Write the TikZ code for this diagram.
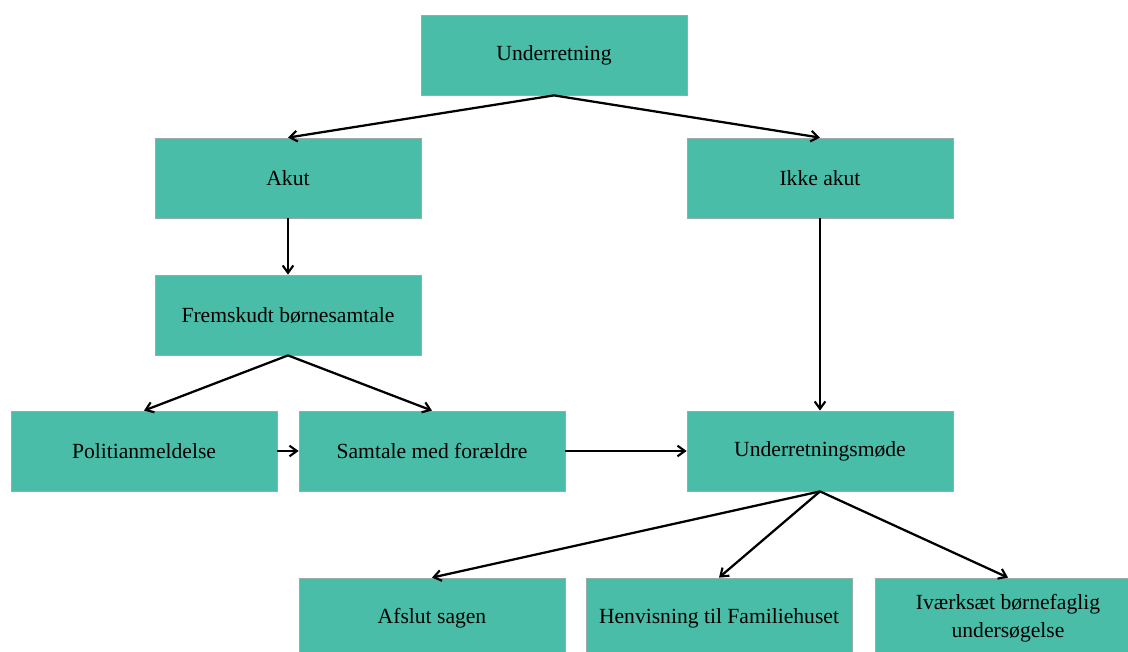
\documentclass[tikz,border=0pt]{standalone}
\usepackage{fontspec}
\setmainfont{Liberation Serif}
\usetikzlibrary{arrows.meta}
\definecolor{boxfill}{RGB}{73,189,167}
\definecolor{boxline}{RGB}{150,172,166}
\tikzset{
  flowbox/.style={rectangle, fill=boxfill, draw=boxline, line width=0.6pt,
    minimum width=199.5pt, minimum height=60pt, inner sep=0pt, align=center,
    font=\fontsize{16.2}{21}\selectfont},
  link/.style={line width=1.7pt, -{Straight Barb[length=5.5pt,width=8pt,line width=1.6pt]}}
}
\begin{document}
\begin{tikzpicture}[x=0.75pt,y=-0.75pt]
\useasboundingbox (0,0) rectangle (1128,652);
\clip (0,0) rectangle (1128,652);
% boxes
\node[flowbox] (und)  at (554,55)   {Underretning};
\node[flowbox] (akut) at (288,178)  {Akut};
\node[flowbox] (ikke) at (820,178)  {Ikke akut};
\node[flowbox] (frem) at (288,315)  {Fremskudt børnesamtale};
\node[flowbox] (poli) at (144,451)  {Politianmeldelse};
\node[flowbox] (samt) at (432,451)  {Samtale med forældre};
\node[flowbox] (mode) at (820,451)  {Underretningsmøde};
\node[flowbox] (afsl) at (432,618)  {Afslut sagen};
\node[flowbox] (henv) at (719,618)  {Henvisning til Familiehuset};
\node[flowbox] (ivae) at (1008,618) {Iværksæt børnefaglig\\undersøgelse};
% connectors
\draw[link] (und.south) -- (akut.north);
\draw[link] (und.south) -- (ikke.north);
\draw[link] (akut.south) -- (frem.north);
\draw[link] (ikke.south) -- (mode.north);
\draw[link] (frem.south) -- (poli.north);
\draw[link] (frem.south) -- (samt.north);
\draw[link] (poli.east) -- (samt.west);
\draw[link] (samt.east) -- (mode.west);
\draw[link] (mode.south) -- (afsl.north);
\draw[link] (mode.south) -- (henv.north);
\draw[link] (mode.south) -- (ivae.north);
\end{tikzpicture}
\end{document}
